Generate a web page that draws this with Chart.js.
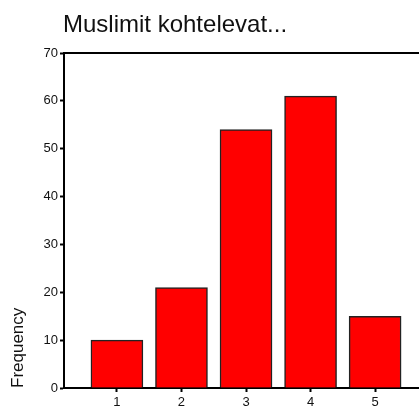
<!DOCTYPE html>
<html>
<head>
<meta charset="utf-8">
<script src="https://cdn.jsdelivr.net/npm/chart.js@4/dist/chart.umd.min.js"></script>
<style>
  html, body { margin: 0; padding: 0; background: #fff; }
  #wrap { width: 419px; height: 408px; position: relative; }
</style>
</head>
<body>
<div id="wrap"><canvas id="chart"></canvas></div>
<script>
/* ─── Data ───────────────────────────────────────────────── */
const chartTitle  = 'Muslimit kohtelevat...';
const categories  = [1, 2, 3, 4, 5];
const frequencies = [10, 21, 54, 61, 15];
const yMax  = 70;
const yStep = 10;

const FONT = 'Liberation Sans, Arial, sans-serif';

/* ─── Title + top frame line ─────────────────────────────── */
const framePlugin = {
  id: 'frame',
  afterDraw(chart) {
    const { ctx, chartArea } = chart;
    ctx.save();
    ctx.strokeStyle = '#000';
    ctx.lineWidth = 2;
    ctx.beginPath();
    ctx.moveTo(chartArea.left, chartArea.top);
    ctx.lineTo(chartArea.right, chartArea.top);
    ctx.stroke();
    ctx.fillStyle = '#111';
    ctx.font = '24px ' + FONT;
    ctx.textBaseline = 'alphabetic';
    ctx.textAlign = 'left';
    ctx.fillText(chartTitle, chartArea.left - 1, 32);
    ctx.restore();
  }
};

new Chart(document.getElementById('chart'), {
  type: 'bar',
  data: {
    datasets: [{
      data: categories.map((c, i) => ({ x: c, y: frequencies[i] })),
      backgroundColor: '#ff0000',
      borderColor: '#222',
      borderWidth: 1.5,
      borderSkipped: 'bottom',
      barThickness: 52
    }]
  },
  options: {
    responsive: true,
    maintainAspectRatio: false,
    animation: false,
    layout: { padding: { top: 53, right: 0, left: 0, bottom: 0 } },
    plugins: {
      legend: { display: false },
      tooltip: { enabled: false }
    },
    scales: {
      x: {
        type: 'linear',
        min: 0.18,
        max: 5.68,
        offset: false,
        afterBuildTicks: s => { s.ticks = categories.map(v => ({ value: v })); },
        afterFit: s => { s.height = 20; },
        border: { display: true, color: '#000', width: 2 },
        grid: {
          display: true, drawOnChartArea: false, drawTicks: true,
          tickLength: 4, tickWidth: 2, tickColor: '#000', offset: false
        },
        ticks: {
          color: '#111', padding: 3,
          font: { family: FONT, size: 13 },
          callback: v => String(v)
        }
      },
      y: {
        min: 0,
        max: yMax,
        afterFit: s => { s.width = 64; },
        border: { display: true, color: '#000', width: 2 },
        grid: {
          display: true, drawOnChartArea: false, drawTicks: true,
          tickLength: 4, tickWidth: 2, tickColor: '#000'
        },
        ticks: {
          stepSize: yStep, color: '#111', padding: 2,
          font: { family: FONT, size: 13 }
        },
        title: {
          display: true, text: 'Frequency', align: 'start', color: '#111',
          font: { family: FONT, size: 17 },
          padding: { top: 8, bottom: 0 }
        }
      }
    }
  },
  plugins: [framePlugin]
});
</script>
</body>
</html>
